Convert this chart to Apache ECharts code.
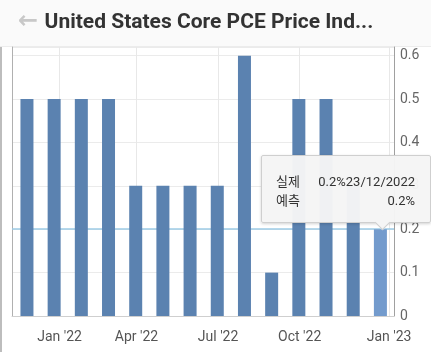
<!DOCTYPE html>
<html>
<head>
<meta charset="utf-8">
<script src="https://cdn.jsdelivr.net/npm/echarts@6/dist/echarts.min.js"></script>
<style>
html, body { margin: 0; padding: 0; background: #fff; }
#graph { width: 431px; height: 352px; }
</style>
</head>
<body>
<div id="graph"></div>
<script>
"use strict"

const titleText = "United States Core PCE Price Ind...";
// release dates (dd/mm/yyyy), one per bar
const releaseDates = ["24/11/2021", "23/12/2021", "28/01/2022", "25/02/2022", "31/03/2022", "29/04/2022", "27/05/2022",
    "30/06/2022", "29/07/2022", "26/08/2022", "30/09/2022", "28/10/2022", "01/12/2022", "23/12/2022"];
const actual = [0.5, 0.5, 0.5, 0.5, 0.3, 0.3, 0.3, 0.3, 0.6, 0.1, 0.5, 0.5, 0.3, 0.2];
const forecast = [null, null, null, null, null, null, null, null, null, null, null, null, null, 0.2];
// axis ticks sit between releases (ordinal axis), position in bar-index units
const xTickPos = [1.2, 4.03, 7.03, 10.03, 13.32];
const xTickLabels = ["Jan '22", "Apr '22", "Jul '22", "Oct '22", "Jan '23"];
const hoverIdx = 13;

const barColor = "#5b82b0", hoverColor = "#739bcd";

const myChart = echarts.init(document.getElementById("graph"), null, { renderer: "canvas" });

const option = {
    animation: false,
    textStyle: { fontFamily: "Roboto" },
    graphic: [
        { type: "rect", left: 0, top: 0, shape: { width: 431, height: 46 }, style: { fill: "#fafafa" }, z: -1 },
        { type: "rect", left: 0, top: 46, shape: { width: 431, height: 1 }, style: { fill: "#ececec" }, z: -1 },
        { type: "rect", left: 0, top: 47, shape: { width: 2, height: 305 }, style: { fill: "#bdbdbd" }, z: -1 }
    ],
    title: {
        left: 13, top: 5,
        text: "{a|←} {b|" + titleText + "}",
        textStyle: {
            rich: {
                a: { fontSize: 24, color: "#c8c8c8", fontFamily: "DejaVu Sans", padding: [0, 2, 2, 0] },
                b: { fontSize: 21, fontWeight: "bold", color: "#333", fontFamily: "Roboto" }
            }
        }
    },
    tooltip: {
        trigger: "item",
        triggerOn: "none",
        alwaysShowContent: true,
        transitionDuration: 0,
        padding: 0,
        backgroundColor: "rgba(245,245,245,0.97)",
        borderColor: "#cfcfcf",
        borderWidth: 1,
        extraCssText: "box-shadow:0 1px 3px rgba(0,0,0,0.18);border-radius:2px;",
        position: (point) => [point[0] - 119, point[1] - 74],
        formatter: p =>
        {
            const i = p.dataIndex;
            const row = "display:flex;justify-content:space-between;height:19px;line-height:19px;";
            return `<div style="width:139px;padding:16px 15px 12px 14px;font-family:Roboto,'Noto Sans CJK KR';font-size:13px;color:#333;">` +
                `<div style="${row}"><span>실제</span><span>${actual[i]}%${releaseDates[i]}</span></div>` +
                `<div style="${row}"><span>예측</span><span>${forecast[i] == null ? "" : forecast[i] + "%"}</span></div>` +
                `<div style="position:absolute;left:115px;bottom:-6px;width:10px;height:10px;background:rgb(245,245,245);` +
                `border-right:1px solid #cfcfcf;border-bottom:1px solid #cfcfcf;transform:rotate(45deg);"></div></div>`;
        }
    },
    grid: { left: 12, right: 37, top: 47, bottom: 36 },
    xAxis: {
        type: "value",
        min: -0.55,
        max: 13.5,
        axisLine: { show: true, onZero: false, lineStyle: { color: "#cfcfcf" } },
        axisTick: { show: false, customValues: xTickPos },
        axisLabel: {
            customValues: xTickPos,
            formatter: v => xTickLabels[xTickPos.indexOf(v)],
            fontSize: 14, color: "#555", margin: 14
        },
        splitLine: { show: true, customValues: xTickPos, lineStyle: { color: "#e8e8e8" } }
    },
    yAxis: [{
        type: "value",
        position: "right",
        min: 0,
        max: 0.62,
        interval: 0.1,
        axisLine: { show: true, onZero: false, lineStyle: { color: "#a0a0a0" } },
        axisTick: { show: false },
        axisLabel: { showMaxLabel: false, fontSize: 14, color: "#666", margin: 6 },
        splitLine: { lineStyle: { color: "#ebebeb" } }
    }, {
        type: "value",
        position: "left",
        min: 0,
        max: 0.62,
        axisLine: { show: true, onZero: false, lineStyle: { color: "#b0b0b0" } },
        axisTick: { show: false },
        axisLabel: { show: false },
        splitLine: { show: false }
    }],
    series: [{
        type: "bar",
        barWidth: 13,
        z: 2,
        data: actual.map((v, i) => ({
            value: [i, v],
            itemStyle: { color: i === hoverIdx ? hoverColor : barColor }
        })),
        markLine: {
            silent: true,
            z: 1,
            symbol: "none",
            label: { show: false },
            lineStyle: { color: "#9ccbe6", width: 1.5, type: "solid" },
            data: [{ yAxis: actual[hoverIdx] }]
        }
    }]
};
myChart.setOption(option);
myChart.dispatchAction({ type: "showTip", seriesIndex: 0, dataIndex: hoverIdx });
</script>
</body>
</html>
